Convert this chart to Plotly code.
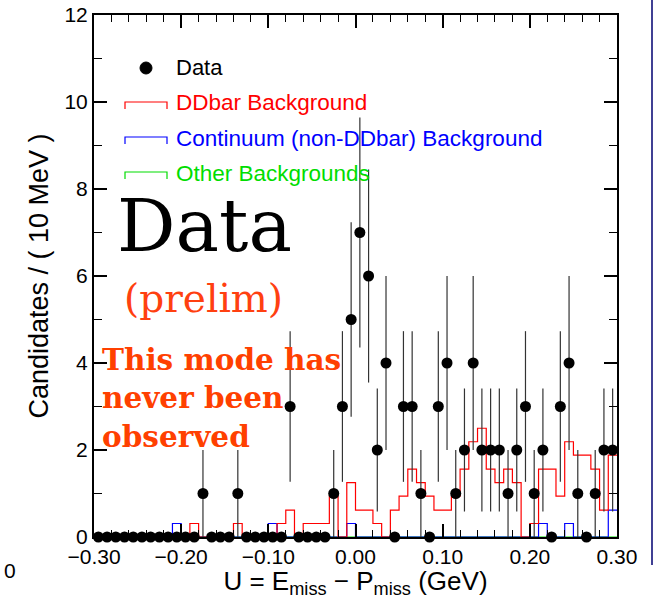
import numpy as np
import plotly.graph_objects as go

# ---------------- data ----------------
bin_width = 0.01
bin_centers = np.round(np.arange(-0.295, 0.30, bin_width), 3)

data_counts = [0, 0, 0, 0, 0, 0, 0, 0, 0, 0,
               0, 0, 1, 0, 0, 0, 1, 0, 0, 0,
               0, 0, 3, 0, 0, 0, 0, 1, 3, 5,
               7, 6, 2, 4, 0, 3, 3, 1, 0, 3,
               4, 1, 2, 4, 2, 2, 2, 1, 2, 3,
               1, 2, 0, 3, 4, 1, 0, 1, 2, 2]

ddbar_bkg = [0, 0, 0, 0, 0, 0, 0, 0, 0, 0,
             0, 0.31, 0, 0, 0, 0, 0.31, 0, 0, 0,
             0, 0.31, 0.62, 0, 0.31, 0.31, 0.31, 0.94, 0, 1.25,
             0.62, 0.62, 0.31, 0, 0.62, 0.94, 1.56, 1.25, 0.94, 0.62,
             0.62, 0.94, 1.56, 2.19, 2.5, 1.56, 1.25, 1.56, 1.25, 0,
             0.31, 1.56, 1.56, 0.94, 2.19, 1.88, 1.88, 1.56, 0.62, 1.88]

continuum_bkg = [0, 0, 0, 0, 0, 0, 0, 0, 0, 0.31,
                 0, 0, 0, 0, 0, 0, 0, 0, 0, 0,
                 0.31, 0, 0, 0, 0, 0, 0, 0, 0, 0.31,
                 0, 0, 0, 0, 0, 0, 0, 0, 0, 0,
                 0, 0, 0, 0, 0, 0, 0, 0, 0, 0,
                 0, 0.31, 0, 0, 0.31, 0, 0, 0, 0, 0.62]

other_bkg = [0] * 60

x_ticks = [-0.30, -0.20, -0.10, 0.00, 0.10, 0.20, 0.30]
x_tick_text = ["\u22120.30", "\u22120.20", "\u22120.10", "0.00", "0.10", "0.20", "0.30"]
y_ticks = [0, 2, 4, 6, 8, 10, 12]

legend_labels = ["Data", "DDbar Background",
                 "Continuum (non-DDbar) Background", "Other Backgrounds"]

# ---------------- geometry helpers (pixel -> paper) ----------------
W, H = 654, 599
L, R, T, B = 94, 37, 15, 62
PW, PH = W - L - R, H - T - B


def px(xp):
    return (xp - L) / PW


def py(yp):
    return (H - B - yp) / PH


edges = np.append(bin_centers - bin_width / 2, bin_centers[-1] + bin_width / 2)


def step_y(vals):
    return list(vals) + [vals[-1]]


fig = go.Figure()

hist_specs = [(other_bkg, "#00dd00"), (continuum_bkg, "#0000ff"), (ddbar_bkg, "#ff0000")]
for vals, col in hist_specs:
    fig.add_trace(go.Scatter(x=edges, y=step_y(vals), mode="lines",
                             line=dict(color=col, width=1.2, shape="hv"),
                             showlegend=False, hoverinfo="skip"))

err = np.sqrt(np.array(data_counts, dtype=float))
fig.add_trace(go.Scatter(
    x=bin_centers, y=data_counts, mode="markers",
    marker=dict(color="black", size=11),
    error_y=dict(type="data", array=err, visible=True, width=0,
                 thickness=1.2, color="#333333"),
    cliponaxis=False, showlegend=False))

sans = "Liberation Sans, Arial, sans-serif"
axis_font = dict(family=sans, size=21, color="black")

fig.update_xaxes(range=[-0.30, 0.30], tickmode="array", tickvals=x_ticks,
                 ticktext=x_tick_text, automargin=False,
                 ticks="inside", ticklen=13, tickwidth=1.5, tickcolor="black",
                 minor=dict(tickmode="linear", tick0=-0.30, dtick=0.02, ticks="inside",
                            ticklen=7, tickwidth=1.2, tickcolor="black"),
                 showline=True, linewidth=2, linecolor="black", mirror="ticks",
                 showgrid=False, zeroline=False, tickfont=axis_font,
                 title=dict(text="U = E<sub>miss</sub> \u2212 P<sub>miss</sub> (GeV)",
                            font=dict(family=sans, size=26, color="black"),
                            standoff=2))
fig.update_yaxes(range=[0, 12], tickmode="array", tickvals=y_ticks,
                 automargin=False,
                 ticks="inside", ticklen=13, tickwidth=1.5, tickcolor="black",
                 minor=dict(tickmode="linear", tick0=0, dtick=1, ticks="inside",
                            ticklen=8, tickwidth=1.2, tickcolor="black"),
                 showline=True, linewidth=2, linecolor="black", mirror="ticks",
                 showgrid=False, zeroline=False, tickfont=axis_font,
                 title=dict(text="Candidates / ( 10 MeV )",
                            font=dict(family=sans, size=27, color="black"),
                            standoff=8))

shapes = []
annotations = []

# legend: data marker
shapes.append(dict(type="circle", xref="paper", yref="paper",
                   x0=px(140), x1=px(152), y0=py(74), y1=py(62),
                   fillcolor="black", line=dict(color="black", width=1)))
annotations.append(dict(text=legend_labels[0], x=px(174), y=py(68), xref="paper", yref="paper",
                        xanchor="left", yanchor="middle", showarrow=False,
                        font=dict(family=sans, size=22, color="black")))
leg_lines = [(legend_labels[1], "#ff0000", 102), (legend_labels[2], "#0000ff", 137),
             (legend_labels[3], "#00dd00", 172)]
for label, col, yy in leg_lines:
    path = "M {},{} L {},{} L {},{} L {},{}".format(
        px(125), py(yy + 7), px(125), py(yy), px(167), py(yy), px(167), py(yy + 7))
    shapes.append(dict(type="path", xref="paper", yref="paper", path=path,
                       line=dict(color=col, width=1.2)))
    annotations.append(dict(text=label, x=px(174), y=py(yy + 1), xref="paper", yref="paper",
                            xanchor="left", yanchor="middle", showarrow=False,
                            font=dict(family=sans, size=22.5, color=col)))

# big labels
annotations.append(dict(text="Data", x=px(204), y=py(226), xref="paper", yref="paper",
                        xanchor="center", yanchor="middle", showarrow=False,
                        font=dict(family="DejaVu Serif, serif", size=73, color="black")))
annotations.append(dict(text="(prelim)", x=px(203), y=py(298), xref="paper", yref="paper",
                        xanchor="center", yanchor="middle", showarrow=False,
                        font=dict(family="DejaVu Serif, serif", size=39, color="#ff4010")))
annotations.append(dict(text="<b>This mode has<br>never been<br>observed</b>",
                        x=px(100), y=py(398), xref="paper", yref="paper",
                        xanchor="left", yanchor="middle", align="left", showarrow=False,
                        font=dict(family="DejaVu Serif, serif", size=29.5, color="#ff4000")))
# stray label in bottom-left corner
annotations.append(dict(text="0", x=px(2), y=py(570), xref="paper", yref="paper",
                        xanchor="left", yanchor="middle", showarrow=False,
                        font=dict(family=sans, size=21, color="black")))
# dark border line on the right
shapes.append(dict(type="line", xref="paper", yref="paper",
                   x0=px(652), x1=px(652), y0=py(0), y1=py(565),
                   line=dict(color="#000070", width=1.5)))

fig.update_layout(width=W, height=H, margin=dict(l=L, r=R, t=T, b=B),
                  paper_bgcolor="white", plot_bgcolor="white",
                  shapes=shapes, annotations=annotations, showlegend=False)

fig.write_html("out.html")
